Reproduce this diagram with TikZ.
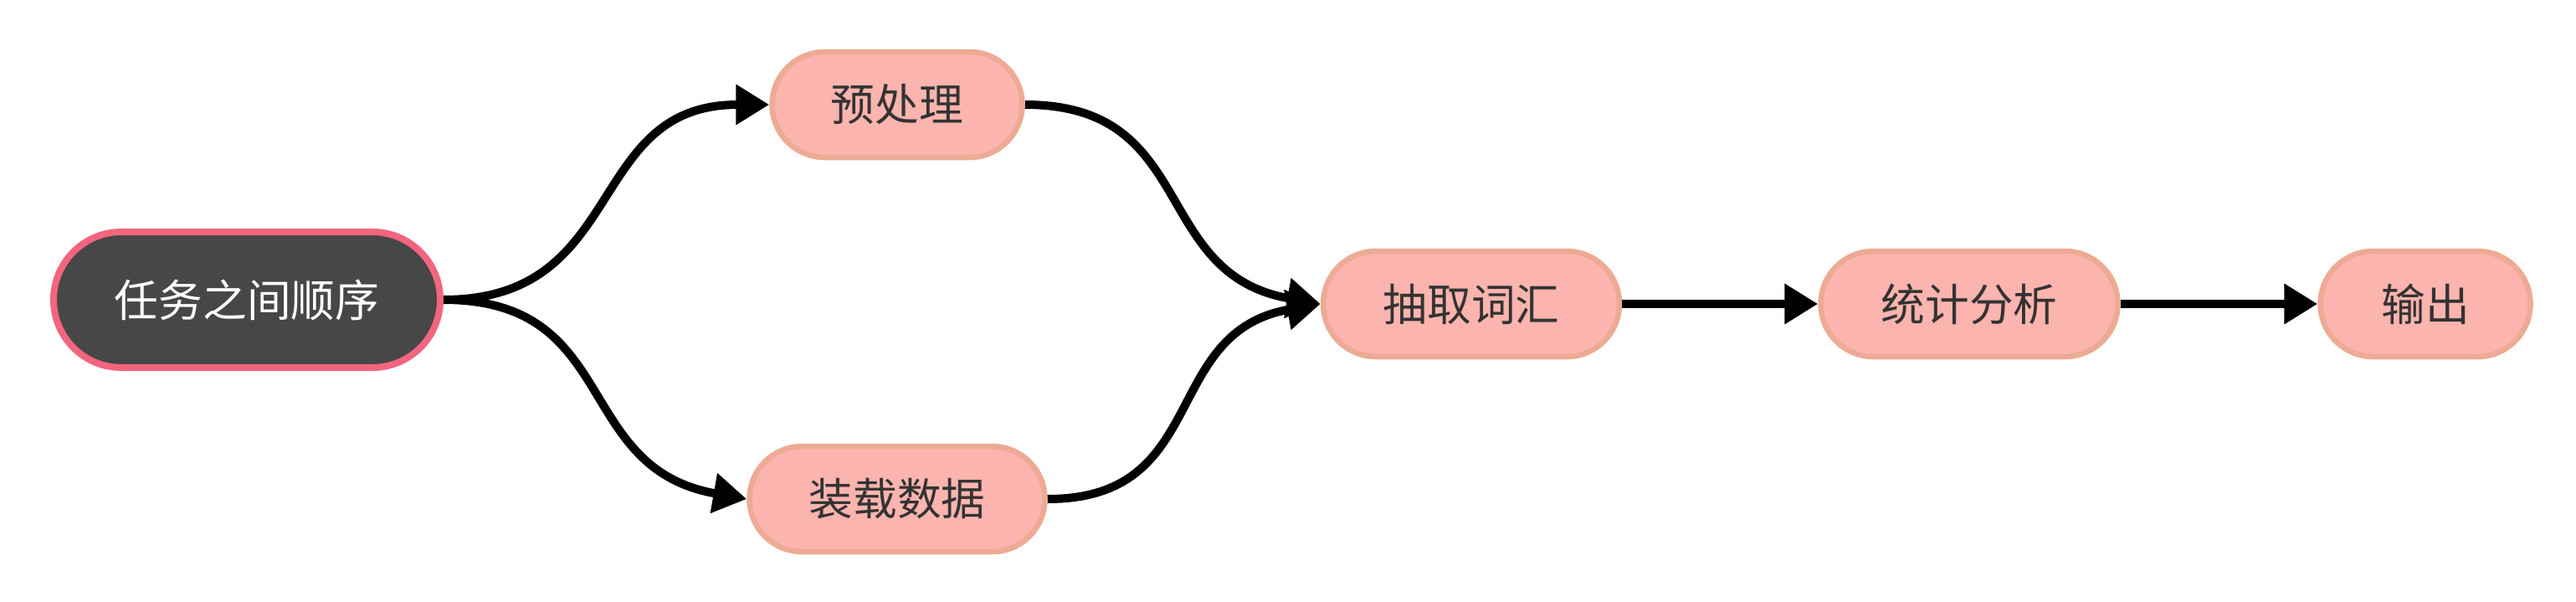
\documentclass[tikz,border=0pt]{standalone}
\usepackage{fontspec}
\usepackage{xcolor}
\usepackage{tikz}
\usetikzlibrary{arrows.meta, positioning}
\newfontfamily\cjk{Noto Sans CJK SC}
\definecolor{flowdark}{HTML}{474747}
\definecolor{flowrose}{HTML}{F2657F}
\definecolor{flowpink}{HTML}{FBB4AE}
\definecolor{flowedge}{HTML}{EDAA94}
\definecolor{flowtext}{HTML}{333333}

\begin{document}
\begin{tikzpicture}[
    rootnode/.style={rectangle, rounded corners=0.81cm, draw=flowrose, line width=0.08cm,
      fill=flowdark, text=white, minimum width=4.62cm, minimum height=1.62cm,
      font=\cjk\fontsize{15pt}{18pt}\selectfont},
    tasknode/.style={rectangle, rounded corners=0.63cm, draw=flowedge, line width=0.065cm,
      fill=flowpink, text=flowtext, minimum height=1.26cm,
      font=\cjk\fontsize{15pt}{18pt}\selectfont},
    flowline/.style={line width=0.1cm, black, -{Triangle[length=4mm, width=4.6mm]}}
  ]
  \useasboundingbox (0,0) rectangle (30.78,7.18);

  % nodes
  \node[rootnode] (order) at (2.95,3.60) {任务之间顺序};
  \node[tasknode, minimum width=2.99cm] (prep) at (10.72,5.93) {预处理};
  \node[tasknode, minimum width=3.53cm] (load) at (10.72,1.22) {装载数据};
  \node[tasknode, minimum width=3.54cm] (vocab) at (17.58,3.55) {抽取词汇};
  \node[tasknode, minimum width=3.55cm] (stats) at (23.53,3.55) {统计分析};
  \node[tasknode, minimum width=2.51cm] (output) at (28.98,3.55) {输出};

  % connectors
  \draw[flowline] (order.east) to[out=0, in=180, looseness=1.25] (prep.west);
  \draw[flowline] (order.east) to[out=0, in=170, looseness=1.25] (load.west);
  \draw[flowline] (prep.east) to[out=0, in=170, looseness=1.25] (vocab.west);
  \draw[flowline] (load.east) to[out=0, in=190, looseness=1.25] (vocab.west);
  \draw[flowline] (vocab.east) -- (stats.west);
  \draw[flowline] (stats.east) -- (output.west);
\end{tikzpicture}
\end{document}
